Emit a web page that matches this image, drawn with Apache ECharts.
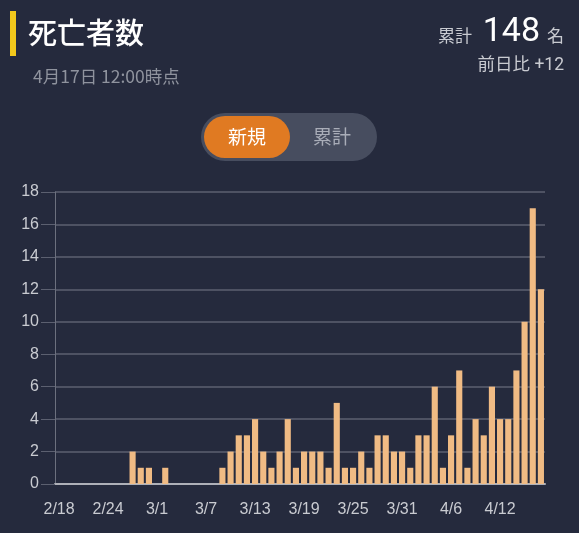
<!DOCTYPE html>
<html>
<head>
<meta charset="utf-8">
<script src="https://cdn.jsdelivr.net/npm/echarts@6/dist/echarts.min.js"></script>
<style>
html,body{margin:0;padding:0;background:#252a3d;}
#c1{width:579px;height:533px;}
</style>
</head>
<body>
<div id="c1"></div>
<script>
// 日付ラベル (2/18 - 4/17)
var dates = ['2/18','2/19','2/20','2/21','2/22','2/23','2/24','2/25','2/26','2/27','2/28','2/29',
  '3/1','3/2','3/3','3/4','3/5','3/6','3/7','3/8','3/9','3/10','3/11','3/12','3/13','3/14','3/15','3/16',
  '3/17','3/18','3/19','3/20','3/21','3/22','3/23','3/24','3/25','3/26','3/27','3/28','3/29','3/30',
  '3/31','4/1','4/2','4/3','4/4','4/5','4/6','4/7','4/8','4/9','4/10','4/11','4/12','4/13','4/14',
  '4/15','4/16','4/17']
// 新規死亡者数
var deaths = [0,0,0,0,0,0,0,0,0,2,1,1,
  0,1,0,0,0,0,0,0,1,2,3,3,4,2,1,2,
  4,1,2,2,2,1,5,1,1,2,1,3,3,2,
  2,1,3,3,6,1,3,7,1,4,3,6,4,4,
  7,10,17,12]
var yTicks = {min: 0, max: 18, interval: 2}

var fontJP = '"Noto Sans CJK JP", "Noto Sans", sans-serif'
var myChart = echarts.init(document.getElementById('c1'))
myChart.setOption({
  backgroundColor: '#252a3d',
  animation: false,
  graphic: [
    {type: 'rect', shape: {x: 10, y: 11, width: 6, height: 45}, style: {fill: '#f2c81c'}},
    {type: 'text', x: 28, y: 33, style: {text: '死亡者数', fill: '#ffffff', font: '500 29px ' + fontJP, verticalAlign: 'middle'}},
    {type: 'text', x: 33, y: 76, style: {text: '4月17日 12:00時点', fill: '#8f939e', font: '17.5px ' + fontJP, verticalAlign: 'middle'}},
    {type: 'text', x: 472, y: 36, style: {text: '累計', fill: '#c9cbd1', font: '17px ' + fontJP, align: 'right', verticalAlign: 'middle'}},
    {type: 'text', x: 540, y: 32, style: {text: '148', fill: '#ffffff', font: '34px Roboto, ' + fontJP, align: 'right', verticalAlign: 'middle'}},
    {type: 'text', x: 564, y: 36, style: {text: '名', fill: '#c9cbd1', font: '17px ' + fontJP, align: 'right', verticalAlign: 'middle'}},
    {type: 'text', x: 564, y: 66, style: {text: '前日比 +12', fill: '#c9cbd1', font: '17.5px Roboto, ' + fontJP, align: 'right', verticalAlign: 'middle'}},
    {type: 'rect', shape: {x: 201, y: 113, width: 176, height: 48, r: 24}, style: {fill: '#474d5f'}},
    {type: 'rect', shape: {x: 204, y: 116, width: 86, height: 42, r: 21}, style: {fill: '#e07a22'}},
    {type: 'text', x: 247, y: 137, style: {text: '新規', fill: '#ffffff', font: '19px ' + fontJP, align: 'center', verticalAlign: 'middle'}},
    {type: 'text', x: 332, y: 137, style: {text: '累計', fill: '#a9adb8', font: '19px ' + fontJP, align: 'center', verticalAlign: 'middle'}}
  ],
  grid: {left: 55, right: 34, top: 192, bottom: 49},
  xAxis: {
    type: 'category',
    data: dates,
    axisLine: {lineStyle: {color: '#aeb0b8', width: 2}},
    axisTick: {show: false},
    axisLabel: {interval: 5, color: '#c9cbd1', fontSize: 16, margin: 18, fontFamily: '"Liberation Sans", Arial, sans-serif'}
  },
  yAxis: {
    type: 'value',
    min: yTicks.min, max: yTicks.max, interval: yTicks.interval,
    axisLine: {show: true, lineStyle: {color: '#6c707e'}},
    axisTick: {show: true, length: 14, lineStyle: {color: '#5c6070'}},
    axisLabel: {color: '#c9cbd1', fontSize: 16, margin: 16, fontFamily: '"Liberation Sans", Arial, sans-serif'},
    splitLine: {lineStyle: {color: '#5c6070', width: 1.5}}
  },
  series: [{
    type: 'bar',
    data: deaths,
    barCategoryGap: '25%',
    itemStyle: {color: '#f0bb84', borderWidth: 0}
  }]
})
</script>
</body>
</html>
